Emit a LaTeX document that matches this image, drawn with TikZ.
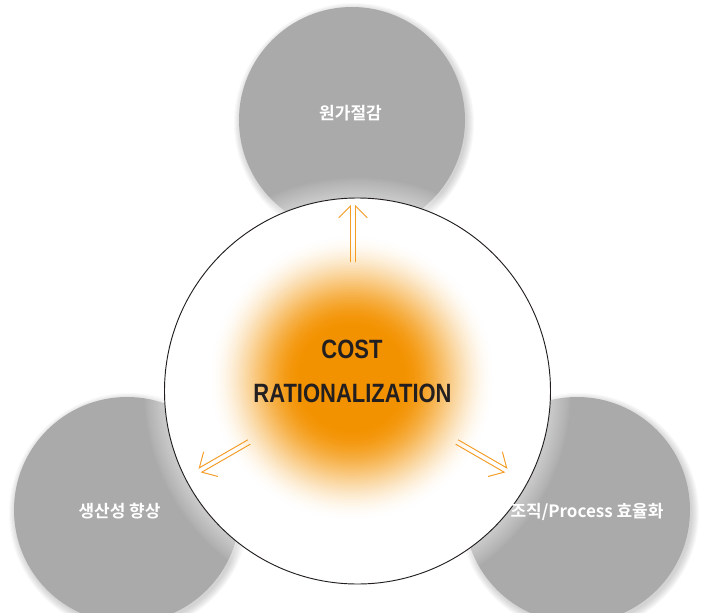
\documentclass[tikz,border=0pt]{standalone}
\usepackage{fontspec}
\usetikzlibrary{calc}
\newfontfamily\krfont{Noto Sans CJK KR Bold}
\newfontfamily\titlefont{Liberation Sans Bold}[FakeStretch=0.83]

\definecolor{discgray}{RGB}{170,170,170}
\definecolor{glow}{RGB}{243,146,0}
\definecolor{pushor}{RGB}{244,155,35}
\definecolor{ink}{RGB}{35,31,32}

\newcommand\dblarrow[2]{%
  \path ($(#1)!0.075cm!90:(#2)$) coordinate (tl0)
        ($(#2)!0.075cm!-90:(#1)$) coordinate (tl1)
        ($(#1)!0.075cm!-90:(#2)$) coordinate (tr0)
        ($(#2)!0.075cm!90:(#1)$) coordinate (tr1);
  \draw[pushline] (tl0) -- (tl1) -- ($(tl1)!0.5cm!-45:(tl0)$);
  \draw[pushline] (tr0) -- (tr1) -- ($(tr1)!0.5cm!45:(tr0)$);
}

\begin{document}
\begin{tikzpicture}[x=0.03cm,y=-0.03cm,
  disc/.style={circle,fill=discgray,minimum size=6.78cm,inner sep=0pt},
  disclabel/.style={text=white,font=\krfont\fontsize{14.5}{17}\selectfont},
  title/.style={text=ink,font=\titlefont\fontsize{22.6}{27}\selectfont,anchor=base},
  pushline/.style={draw=pushor,line width=0.8pt}]
  \useasboundingbox (0,0) rectangle (714,613);

  \foreach \cx/\cy in {352/120,127/510,577/510}
    \foreach \k in {1,...,8}
      \fill[black,opacity=0.025] (\cx+2,\cy+3) circle[radius=112+\k];

  \node[disc] (saving) at (352,120) {};
  \node[disc] (productivity) at (127,510) {};
  \node[disc] (efficiency) at (577,510) {};

  \coordinate (hubc) at (357.5,391);
  \foreach \k in {1,...,10}
    \fill[white,opacity=0.05] (hubc) circle[radius=193+2*\k];
  \node[circle,draw=ink,line width=0.8pt,fill=white,minimum size=11.58cm,inner sep=0pt] (hub) at (hubc) {};

  \coordinate (glowc) at (352,378);
  \foreach \r in {145,143,...,1}{
    \pgfmathsetmacro\t{min(1,(145-\r)/95)}
    \pgfmathsetmacro\p{100*\t*\t*(3-2*\t)}
    \fill[glow!\p!white] (glowc) circle[radius=\r];
  }

  \node[disclabel] (savinglabel) at (350.5,113) {원가절감};
  \node[disclabel] (productivitylabel) at (119.5,511) {생산성 향상};
  \node[disclabel] (efficiencylabel) at (587,512) {조직/Process 효율화};

  \node[title] (costword) at (352,358) {COST};
  \node[title] (ratword) at (352.5,402) {RATIONALIZATION};

  \coordinate (core) at (353,382);
  \foreach \a/\n in {-90/up,150/left,30/right}{
    \coordinate (\n from) at ($(core)+(\a:120)$);
    \coordinate (\n to) at ($(core)+(\a:176)$);
    \dblarrow{\n from}{\n to}
  }
\end{tikzpicture}
\end{document}
